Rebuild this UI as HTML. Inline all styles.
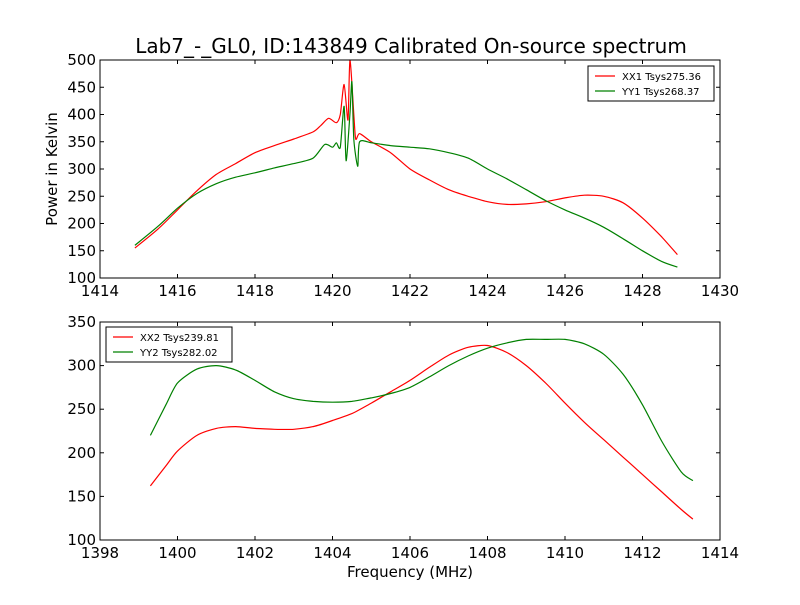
<!DOCTYPE html>
<html><head><meta charset="utf-8"><style>
body{margin:0;background:#fff;font-family:"Liberation Sans","DejaVu Sans",sans-serif}
svg text{font-family:"DejaVu Sans","Liberation Sans",sans-serif}
</style></head><body>
<svg id="c" width="800" height="600" xmlns="http://www.w3.org/2000/svg">
<rect width="800" height="600" fill="#fff"/>
<text x="411" y="53" font-size="20" text-anchor="middle">Lab7_-_GL0, ID:143849 Calibrated On-source spectrum</text>
<text x="57" y="169" font-size="15" text-anchor="middle" transform="rotate(-90 57 169)">Power in Kelvin</text>
<text x="410" y="577" font-size="15" text-anchor="middle">Frequency (MHz)</text>
</svg>
<script>
const topXX1x=[1414.9,1415.5,1416,1416.5,1417,1417.5,1418,1418.5,1419,1419.5,1419.7,1419.9,1420.1,1420.2,1420.3,1420.4,1420.45,1420.55,1420.6,1420.7,1421,1421.5,1422,1422.5,1423,1423.5,1424,1424.5,1425,1425.5,1426,1426.5,1427,1427.5,1428,1428.5,1428.9];
const topXX1y=[155,190,225,260,290,310,330,343,355,368,380,393,385,400,455,390,500,400,355,365,350,330,300,280,262,250,240,235,236,240,247,252,250,238,210,175,143];
const topYY1x=[1414.9,1415.5,1416,1416.5,1417,1417.5,1418,1418.5,1419,1419.5,1419.8,1420,1420.1,1420.2,1420.3,1420.35,1420.45,1420.5,1420.55,1420.65,1420.7,1421,1421.5,1422,1422.5,1423,1423.5,1424,1424.5,1425,1425.5,1426,1426.5,1427,1427.5,1428,1428.5,1428.9];
const topYY1y=[160,195,228,255,273,285,293,302,310,320,345,340,348,340,415,315,400,460,355,305,350,348,343,340,337,330,320,300,282,262,242,225,210,193,172,150,130,120];
const botXX2x=[1399.3,1399.7,1400,1400.5,1401,1401.5,1402,1402.5,1403,1403.5,1404,1404.5,1405,1405.5,1406,1406.5,1407,1407.5,1408,1408.5,1409,1409.5,1410,1410.5,1411,1411.5,1412,1412.5,1413,1413.3];
const botXX2y=[162,185,202,220,228,230,228,227,227,230,237,245,257,270,283,298,312,321,323,315,300,280,257,235,215,195,175,155,135,124];
const botYY2x=[1399.3,1399.7,1400,1400.5,1401,1401.5,1402,1402.5,1403,1403.5,1404,1404.5,1405,1405.5,1406,1406.5,1407,1407.5,1408,1408.5,1409,1409.5,1410,1410.5,1411,1411.5,1412,1412.5,1413,1413.3];
const botYY2y=[220,255,280,296,300,295,283,270,262,259,258,259,263,268,275,287,300,311,320,326,330,330,330,325,313,290,255,213,178,168];
const topXTicks=[1414,1416,1418,1420,1422,1424,1426,1428,1430];
const topYTicks=[100,150,200,250,300,350,400,450,500];
const botXTicks=[1398,1400,1402,1404,1406,1408,1410,1412,1414];
const botYTicks=[100,150,200,250,300,350];
const topLegend=['XX1 Tsys275.36','YY1 Tsys268.37'];
const botLegend=['XX2 Tsys239.81','YY2 Tsys282.02'];
const NS='http://www.w3.org/2000/svg';
const svg=document.getElementById('c');
function mk(t,a,p){const e=document.createElementNS(NS,t);for(const k in a)e.setAttribute(k,a[k]);(p||svg).appendChild(e);return e;}
function smooth(P){
 let d='M'+P[0][0].toFixed(1)+' '+P[0][1].toFixed(1);
 for(let i=0;i<P.length-1;i++){
  const p0=P[Math.max(0,i-1)],p1=P[i],p2=P[i+1],p3=P[Math.min(P.length-1,i+2)];
  const k=1/8;
  const c1=[p1[0]+(p2[0]-p0[0])*k,p1[1]+(p2[1]-p0[1])*k];
  const c2=[p2[0]-(p3[0]-p1[0])*k,p2[1]-(p3[1]-p1[1])*k];
  d+='C'+c1[0].toFixed(1)+' '+c1[1].toFixed(1)+' '+c2[0].toFixed(1)+' '+c2[1].toFixed(1)+' '+p2[0].toFixed(1)+' '+p2[1].toFixed(1);
 }
 return d;
}
function panel(name,y0,y1,xmin,xmax,ymin,ymax,xt,yt,series,leg,lx,ly){
 const L=100,R=720;
 const sx=v=>L+(v-xmin)/(xmax-xmin)*(R-L);
 const sy=v=>y1-(v-ymin)/(ymax-ymin)*(y1-y0);
 const g=mk('g',{});
 
 
 series.forEach(s=>{
  const P=s.x.map((v,i)=>[sx(v),sy(s.y[i])]);
  const p=mk('path',{d:smooth(P),fill:'none',stroke:s.c,'stroke-width':1.2,'stroke-linejoin':'round'},g);
  
  
 });
 mk('rect',{x:L,y:y0,width:R-L,height:y1-y0,fill:'none',stroke:'#000','stroke-width':1},g);
 xt.forEach(v=>{const x=sx(v);
  mk('line',{x1:x,x2:x,y1:y1,y2:y1-4,stroke:'#000'},g);mk('line',{x1:x,x2:x,y1:y0,y2:y0+4,stroke:'#000'},g);
  const t=mk('text',{x:x,y:y1+18,'font-size':15,'text-anchor':'middle'},g);t.textContent=v;
  
  });
 yt.forEach(v=>{const y=sy(v);
  mk('line',{x1:L,x2:L+4,y1:y,y2:y,stroke:'#000'},g);mk('line',{x1:R,x2:R-4,y1:y,y2:y,stroke:'#000'},g);
  const t=mk('text',{x:L-4,y:y+5,'font-size':15,'text-anchor':'end'},g);t.textContent=v;
  
  });
 const lg=mk('g',{},g);
 
 
 mk('rect',{x:lx,y:ly,width:126,height:35,fill:'#fff',stroke:'#000'},lg);
 leg.forEach((s,i)=>{const yy=ly+10+i*15;
  mk('line',{x1:lx+7,x2:lx+27,y1:yy,y2:yy,stroke:series[i].c,'stroke-width':1.2},lg);
  const t=mk('text',{x:lx+34,y:yy+4,'font-size':10},lg);t.textContent=s;
  
  });
}
panel('top-panel',60,278,1414,1430,100,500,topXTicks,topYTicks,
 [{x:topXX1x,y:topXX1y,c:'#ff0000',n:'series-xx1'},{x:topYY1x,y:topYY1y,c:'#008000',n:'series-yy1'}],topLegend,588,66);
panel('bottom-panel',322,540,1398,1414,100,350,botXTicks,botYTicks,
 [{x:botXX2x,y:botXX2y,c:'#ff0000',n:'series-xx2'},{x:botYY2x,y:botYY2y,c:'#008000',n:'series-yy2'}],botLegend,106,327);
</script>
</body></html>
